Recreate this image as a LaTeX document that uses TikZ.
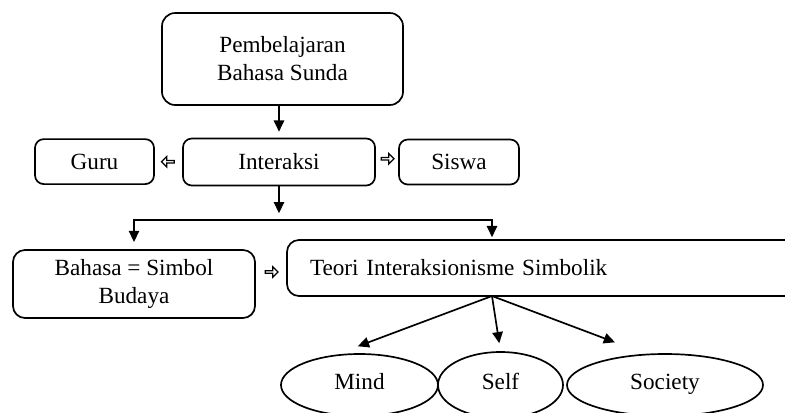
\documentclass[tikz,border=0pt]{standalone}
\usepackage{fontspec}
\setmainfont{Liberation Serif}
\usepackage{tikz}
\usetikzlibrary{calc, shapes.geometric, shapes.arrows, arrows.meta}

\begin{document}
\begin{tikzpicture}[>={Triangle[length=0.28cm, width=0.26cm]},
        font=\fontsize{16.5}{20}\selectfont,
        box/.style={draw, line width=1.2pt, rounded corners=0.22cm, align=center,
            inner sep=0pt},
        oval/.style={draw, line width=1.2pt, ellipse, inner sep=0pt,
            text height=1.6ex, text depth=0.3ex},
        arr/.style={->, line width=1.2pt},
        hollowarr/.style={draw, single arrow, line width=0.9pt, inner sep=0pt,
            minimum height=0.32cm, minimum width=0.26cm,
            single arrow head extend=0.05cm}]
    \useasboundingbox (0 , 0) rectangle (19.625 , -10.3);
    % top
    \node[box, rounded corners=0.33cm, minimum width=6.025cm, minimum height=2.3cm]
        (pembelajaran) at (7.0625 , -1.475) {Pembelajaran\\Bahasa Sunda};
    % second row
    \node[box, minimum width=4.8cm, minimum height=1.175cm]
        (interaksi) at (6.975 , -4.05) {Interaksi};
    \node[box, minimum width=2.975cm, minimum height=1.125cm]
        (guru) at (2.3625 , -4.04) {Guru};
    \node[box, minimum width=3.0cm, minimum height=1.125cm]
        (siswa) at (11.475 , -4.05) {Siswa};
    % third row
    \node[box, rounded corners=0.3cm, minimum width=6.05cm, minimum height=1.7cm]
        (bahasa) at (3.35 , -7.1) {Bahasa = Simbol\\Budaya};
    \node[box, rounded corners=0.3cm, text width=11.675cm, align=left,
        inner xsep=0.575cm, minimum height=1.4cm]
        (teori) at (13.5875 , -6.7) {Teori Interaksionisme Simbolik};
    % ovals
    \node[oval, minimum width=3.925cm, minimum height=1.55cm]
        (mind) at (8.9875 , -9.625) {Mind};
    \node[oval, minimum width=3.125cm, minimum height=1.65cm]
        (self) at (12.5125 , -9.625) {Self};
    \node[oval, minimum width=4.9cm, minimum height=1.55cm]
        (society) at (16.625 , -9.625) {Society};
    % branch points
    \coordinate (fork) at (6.975 , -5.5);
    \coordinate (split) at (12.3 , -7.4);
    % arrows
    \draw[arr, shorten >=0.15cm] (pembelajaran.south -| interaksi) -- (interaksi.north);
    \draw[arr, shorten >=0.17cm] (interaksi.south) -- (fork);
    \draw[arr, shorten >=0.18cm] (fork) -| (bahasa.north);
    \draw[arr, shorten >=0.05cm] (fork) -| (teori.north -| split);
    \draw[arr, shorten >=0.49cm] (split) -- ([xshift=-0.5cm]mind.north);
    \draw[arr, shorten >=0.2cm] (split) -- (self.north);
    \draw[arr, shorten >=0.77cm] (split) -- ([xshift=-0.53cm]society.north);
    % small hollow arrows
    \path (interaksi.west) -- node[hollowarr, shape border rotate=180] {} (guru.east);
    \path (interaksi.east) -- node[hollowarr, yshift=0.08cm] {} (siswa.west);
    \path (bahasa.east |- teori.west) -- node[hollowarr, yshift=-0.1cm] {} (teori.west);
\end{tikzpicture}
\end{document}
